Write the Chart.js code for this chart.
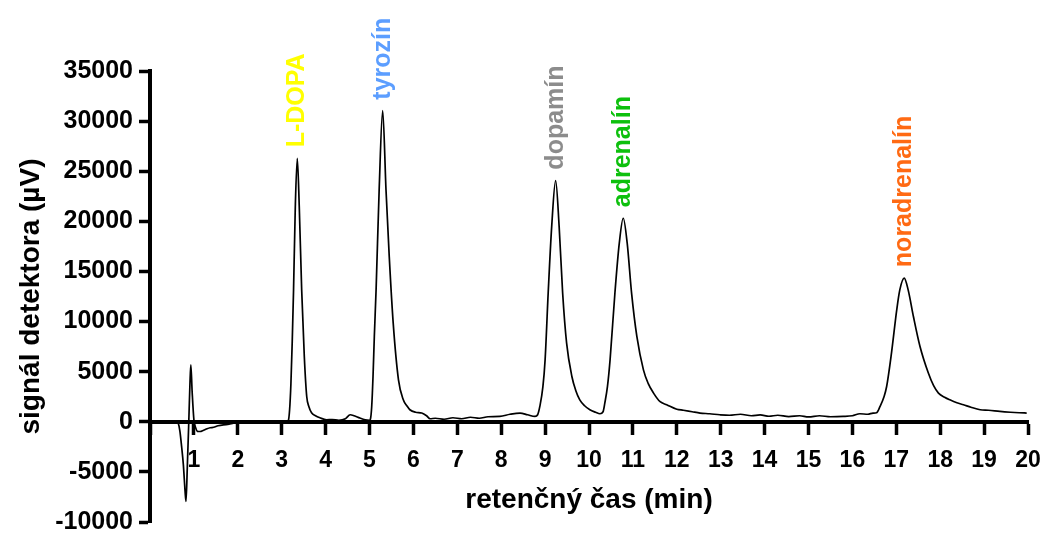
<!DOCTYPE html>
<html>
<head>
<meta charset="utf-8">
<script src="https://cdn.jsdelivr.net/npm/chart.js@4"></script>
<style>
  html, body { margin: 0; padding: 0; background: #fff; }
  #wrap { width: 1043px; height: 534px; }
</style>
</head>
<body>
<div id="wrap"><canvas id="chart" width="1043" height="534"></canvas></div>
<script>
// ── Data ───────────────────────────────────────────────────
const retTime = [
  0.0, 0.1, 0.2, 0.3, 0.4, 0.5, 0.6, 0.64, 0.68, 0.72, 0.76, 0.8, 0.82, 0.85, 0.88, 0.91, 0.93, 0.96,
  1.0, 1.04, 1.08, 1.14, 1.22, 1.3, 1.37, 1.45, 1.55, 1.67, 1.8, 1.9, 2.05, 2.2, 2.4, 2.6, 2.8, 3.0,
  3.12, 3.15, 3.18, 3.21, 3.24, 3.27, 3.31, 3.355, 3.4, 3.455, 3.515, 3.57, 3.62, 3.68, 3.77, 3.87, 4.02,
  4.15, 4.3, 4.45, 4.56, 4.65, 4.78, 4.9, 5.0, 5.02, 5.05, 5.08, 5.11, 5.15, 5.22, 5.3, 5.376, 5.45, 5.54, 5.66,
  5.77, 5.85, 5.92, 6.05, 6.19, 6.3, 6.38, 6.5, 6.7, 6.9, 7.1, 7.3, 7.5, 7.7, 7.97, 8.2, 8.43, 8.6,
  8.77, 8.83, 8.88, 8.95, 9.0, 9.07, 9.15, 9.24, 9.32, 9.4, 9.49, 9.61, 9.7, 9.79, 9.9, 10.02, 10.15,
  10.25, 10.32, 10.36, 10.42, 10.48, 10.59, 10.69, 10.78, 10.87, 10.97, 11.09, 11.24, 11.35, 11.47,
  11.62, 11.77, 12.0, 12.15, 12.35, 12.53, 12.75, 12.98, 13.2, 13.45, 13.7, 13.9, 14.1, 14.3, 14.55,
  14.8, 15.0, 15.25, 15.5, 15.79, 16.0, 16.17, 16.35, 16.47, 16.55, 16.63, 16.72, 16.78, 16.89, 17.01,
  17.08, 17.18, 17.27, 17.39, 17.54, 17.73, 17.85, 17.96, 18.1, 18.22, 18.38, 18.53, 18.7, 18.91,
  19.1, 19.36, 19.6, 19.8, 19.97
];
const signal = [
  0, 80, -30, 60, 100, -20, 50, -100, -900, -2460, -4300, -7000, -7950, -4500, -500, 3800, 5680, 3000,
  200, -600, -950, -970, -850, -700, -600, -550, -400, -300, -250, -150, -100, -20, 40, -30, 50, 0,
  20, 100, 1200, 3800, 8000, 13160, 21470, 26290, 21470, 13160, 6510, 2520, 1500, 900, 600, 400, 200,
  220, 150, 300, 700, 600, 370, 200, 150, 250, 1500, 4500, 8500, 13160, 23130, 31040, 23130, 16480, 9840, 4190,
  2190, 1600, 1200, 950, 870, 600, 300, 350, 250, 400, 300, 450, 350, 500, 530, 750, 870, 700,
  530, 700, 1530, 3500, 6180, 12830, 19470, 24060, 19470, 12830, 7850, 4520, 3100, 2190, 1600, 1200, 950,
  800, 1000, 1860, 3500, 6180, 12830, 17820, 20310, 17820, 12830, 8510, 5180, 3800, 2860,
  2000, 1700, 1250, 1150, 1000, 870, 800, 700, 650, 750, 600, 680, 550, 650, 520,
  600, 480, 600, 500, 530, 600, 800, 750, 870, 900, 1530, 2500, 3520, 6850, 11170,
  13160, 14330, 13160, 10500, 7510, 4860, 3600, 2860, 2450, 2190, 1900, 1700, 1450, 1200,
  1150, 1030, 950, 900, 870
];

const peakNames  = ['L-DOPA', 'tyrozín', 'dopamín', 'adrenalín', 'noradrenalín'];
const peakTimes  = [3.355, 5.3, 9.24, 10.78, 17.18];
const peakColors = ['#FFFF00', '#5C9EFF', '#8C8C8C', '#0DC00D', '#FF6A13'];

const yTicks = [-10000, -5000, 0, 5000, 10000, 15000, 20000, 25000, 30000, 35000];
const xTicks = [0, 1, 2, 3, 4, 5, 6, 7, 8, 9, 10, 11, 12, 13, 14, 15, 16, 17, 18, 19, 20];

// ── Chart ──────────────────────────────────────────────────
const FONT = "'Liberation Sans', Arial, sans-serif";

const peakLabels = {
  id: 'peakLabels',
  afterDatasetsDraw(chart) {
    const { ctx, scales: { x, y } } = chart;
    ctx.save();
    ctx.font = `bold 25px ${FONT}`;
    ctx.textAlign = 'left';
    ctx.textBaseline = 'middle';
    peakNames.forEach((name, i) => {
      // highest point of the trace near the given retention time
      let best = -Infinity;
      retTime.forEach((t, k) => {
        if (Math.abs(t - peakTimes[i]) < 0.3 && signal[k] > best) best = signal[k];
      });
      ctx.save();
      ctx.translate(x.getPixelForValue(peakTimes[i]), y.getPixelForValue(best) - 11);
      ctx.rotate(-Math.PI / 2);
      ctx.fillStyle = peakColors[i];
      ctx.fillText(name, 0, 0);
      ctx.restore();
    });
    ctx.restore();
  },
};

new Chart(document.getElementById('chart'), {
  type: 'line',
  data: {
    datasets: [{
      data: retTime.map((t, i) => ({ x: t, y: signal[i] })),
      borderColor: '#000',
      borderWidth: 1.7,
      pointRadius: 0,
      fill: false,
      cubicInterpolationMode: 'monotone',
    }],
  },
  options: {
    responsive: false,
    animation: false,
    layout: { padding: { left: 0, top: 71, right: 15, bottom: 12 } },
    plugins: { legend: { display: false }, tooltip: { enabled: false } },
    scales: {
      x: {
        type: 'linear',
        position: { y: 0 },
        min: 0,
        max: 20,
        afterBuildTicks: s => { s.ticks = xTicks.map(v => ({ value: v })); },
        afterFit: s => { s.height = 0; s.paddingLeft = 0; s.paddingRight = 0; },
        ticks: {
          autoSkip: false,
          maxRotation: 0,
          padding: 14,
          color: '#000',
          font: { family: FONT, size: 23, weight: 'bold' },
          callback: v => (v === 0 ? '' : String(v)),
        },
        grid: { drawOnChartArea: false, drawTicks: true, tickLength: 11, tickWidth: 3.5, tickColor: '#000' },
        border: { display: true, color: '#000', width: 4 },
        title: {
          display: true,
          text: 'retenčný čas (min)',
          color: '#000',
          font: { family: FONT, size: 28, weight: 'bold' },
          padding: { top: 0, bottom: -95 },
        },
      },
      y: {
        type: 'linear',
        position: 'left',
        min: -10000,
        max: 35000,
        afterBuildTicks: s => { s.ticks = yTicks.map(v => ({ value: v })); },
        afterFit: s => { s.width = 150; s.paddingTop = 0; s.paddingBottom = 0; },
        ticks: {
          padding: 6,
          color: '#000',
          font: { family: FONT, size: 25, weight: 'bold' },
          callback: v => String(v),
        },
        grid: { drawOnChartArea: false, drawTicks: true, tickLength: 11, tickWidth: 3.5, tickColor: '#000' },
        border: { display: true, color: '#000', width: 4 },
        title: {
          display: true,
          text: 'signál detektora (µV)',
          color: '#000',
          font: { family: FONT, size: 28, weight: 'bold' },
          padding: { top: 14, bottom: 0 },
        },
      },
    },
  },
  plugins: [peakLabels],
});
</script>
</body>
</html>
